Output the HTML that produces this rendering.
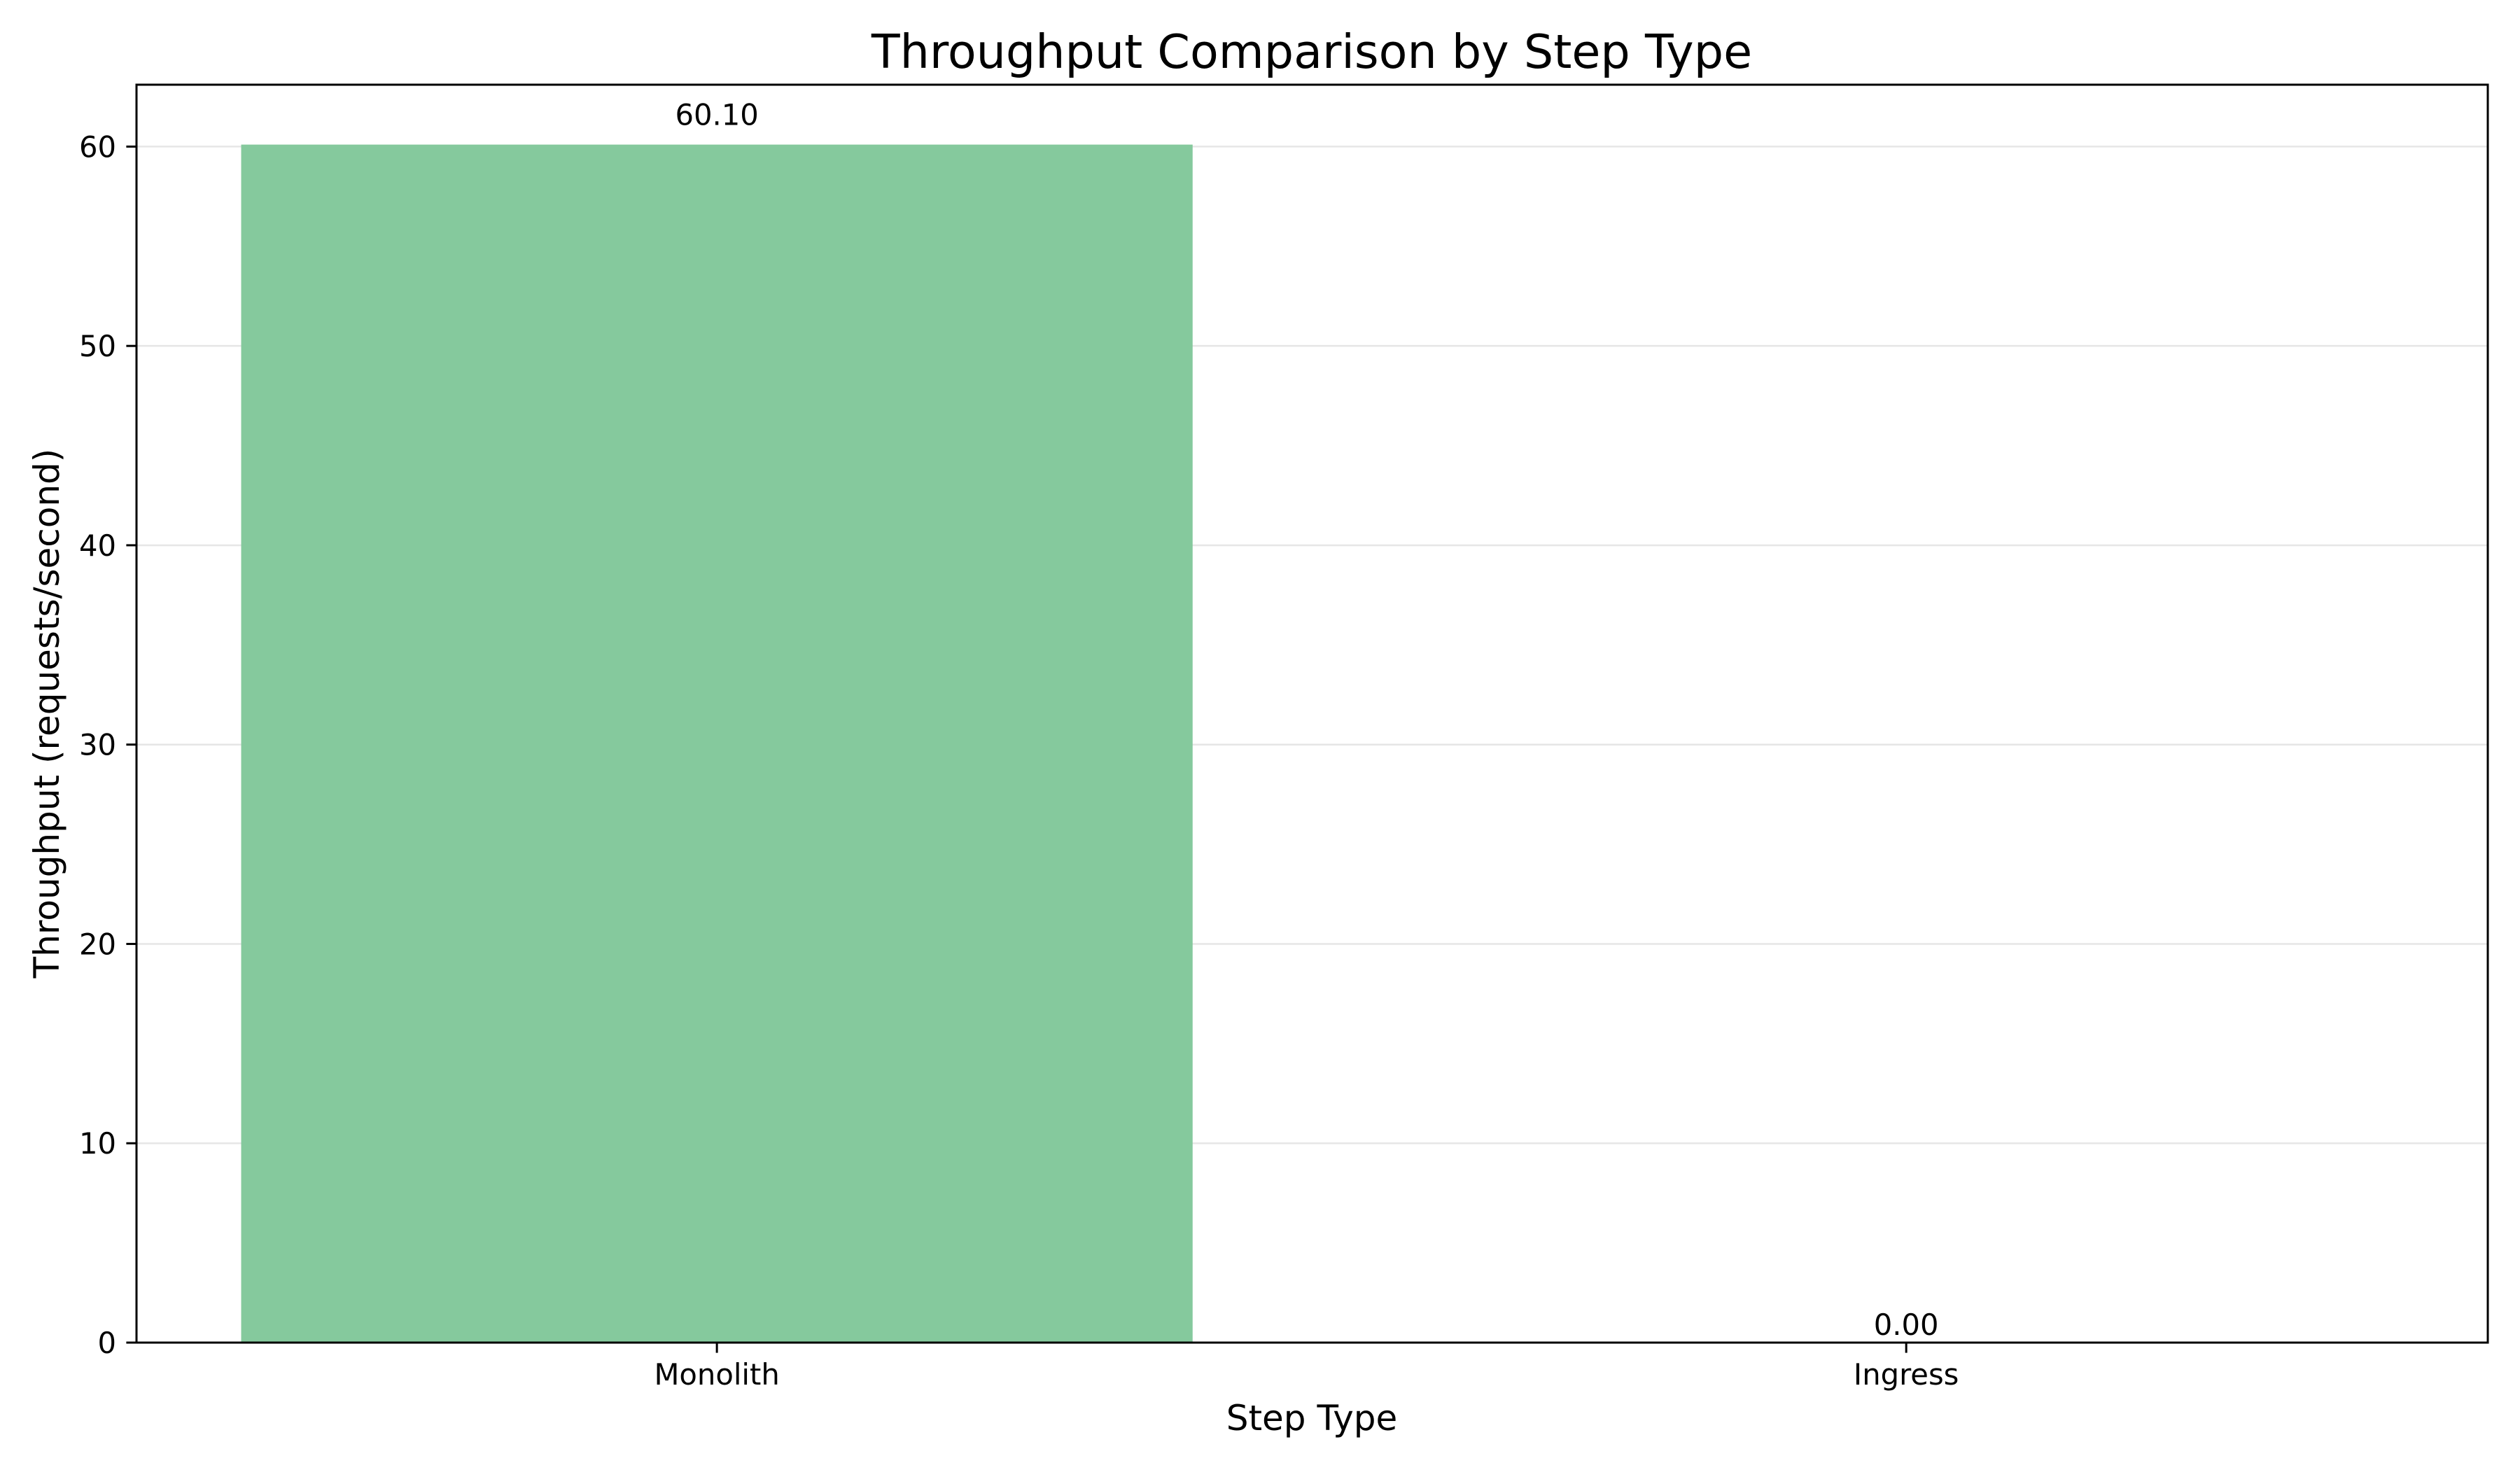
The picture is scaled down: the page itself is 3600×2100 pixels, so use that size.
<!DOCTYPE html>
<html><head><meta charset="utf-8"><style>
html,body{margin:0;padding:0;background:#fff;}
svg{display:block;font-family:"DejaVu Sans","Liberation Sans",sans-serif;}
</style></head><body>
<svg id="chart" width="3600" height="2100" viewBox="0 0 3600 2100" xmlns="http://www.w3.org/2000/svg">
<rect width="3600" height="2100" fill="#fff"/>
<g id="grid"></g>
<g id="bars"></g>
<g id="axes"></g>
<text x="1874" y="97" font-size="66.7" text-anchor="middle">Throughput Comparison by Step Type</text>
<text x="1874" y="2043" font-size="50" text-anchor="middle">Step Type</text>
<text transform="translate(84,1019) rotate(-90)" font-size="50" text-anchor="middle">Throughput (requests/second)</text>
</svg>
<script>
const categories = ["Monolith", "Ingress"];
const values = [60.10, 0.00];
const valueLabels = ["60.10", "0.00"];
const yTicks = [0, 10, 20, 30, 40, 50, 60];

const L = 195, R = 3554, T = 121, B = 1918;
const xMin = -0.488, xMax = 1.489;
const yMax = Math.max(...values) * 1.05 || 1;
const xs = v => L + (v - xMin) / (xMax - xMin) * (R - L);
const ys = v => B - v / yMax * (B - T);
const NS = "http://www.w3.org/2000/svg";
function mk(tag, attrs, parent, txt) {
  const e = document.createElementNS(NS, tag);
  for (const k in attrs) e.setAttribute(k, attrs[k]);
  if (txt !== undefined) e.textContent = txt;
  parent.appendChild(e);
  return e;
}
const grid = document.getElementById('grid');
const bars = document.getElementById('bars');
const axes = document.getElementById('axes');

yTicks.forEach(t => {
  const y = ys(t);
  const g = mk('line', {x1: L, x2: R, y1: y, y2: y, stroke: '#e6e6e6', 'stroke-width': 2.5}, grid);
  
  
  const tk = mk('line', {x1: L - 14.6, x2: L, y1: y, y2: y, stroke: '#000', 'stroke-width': 3}, axes);
  
  
  const lb = mk('text', {x: L - 29, y: y + 15, 'font-size': 41.7, 'text-anchor': 'end'}, axes, String(t));
  
  
});

categories.forEach((c, i) => {
  const x0 = xs(i - 0.4), x1 = xs(i + 0.4);
  const y = ys(values[i]);
  const b = mk('rect', {x: x0, y: y, width: x1 - x0, height: B - y, fill: '#85c99d'}, bars);
  
  
  const v = mk('text', {x: xs(i), y: ys(values[i] * 1.01) - 11, 'font-size': 41.7, 'text-anchor': 'middle'}, axes, valueLabels[i]);
  
  
  const tk = mk('line', {x1: xs(i), x2: xs(i), y1: B, y2: B + 14.6, stroke: '#000', 'stroke-width': 3}, axes);
  
  
  const lb = mk('text', {x: xs(i), y: B + 60, 'font-size': 41.7, 'text-anchor': 'middle'}, axes, c);
  
  
});

const frame = mk('rect', {x: L, y: T, width: R - L, height: B - T, fill: 'none', stroke: '#000', 'stroke-width': 3}, axes);


</script>
</body></html>
